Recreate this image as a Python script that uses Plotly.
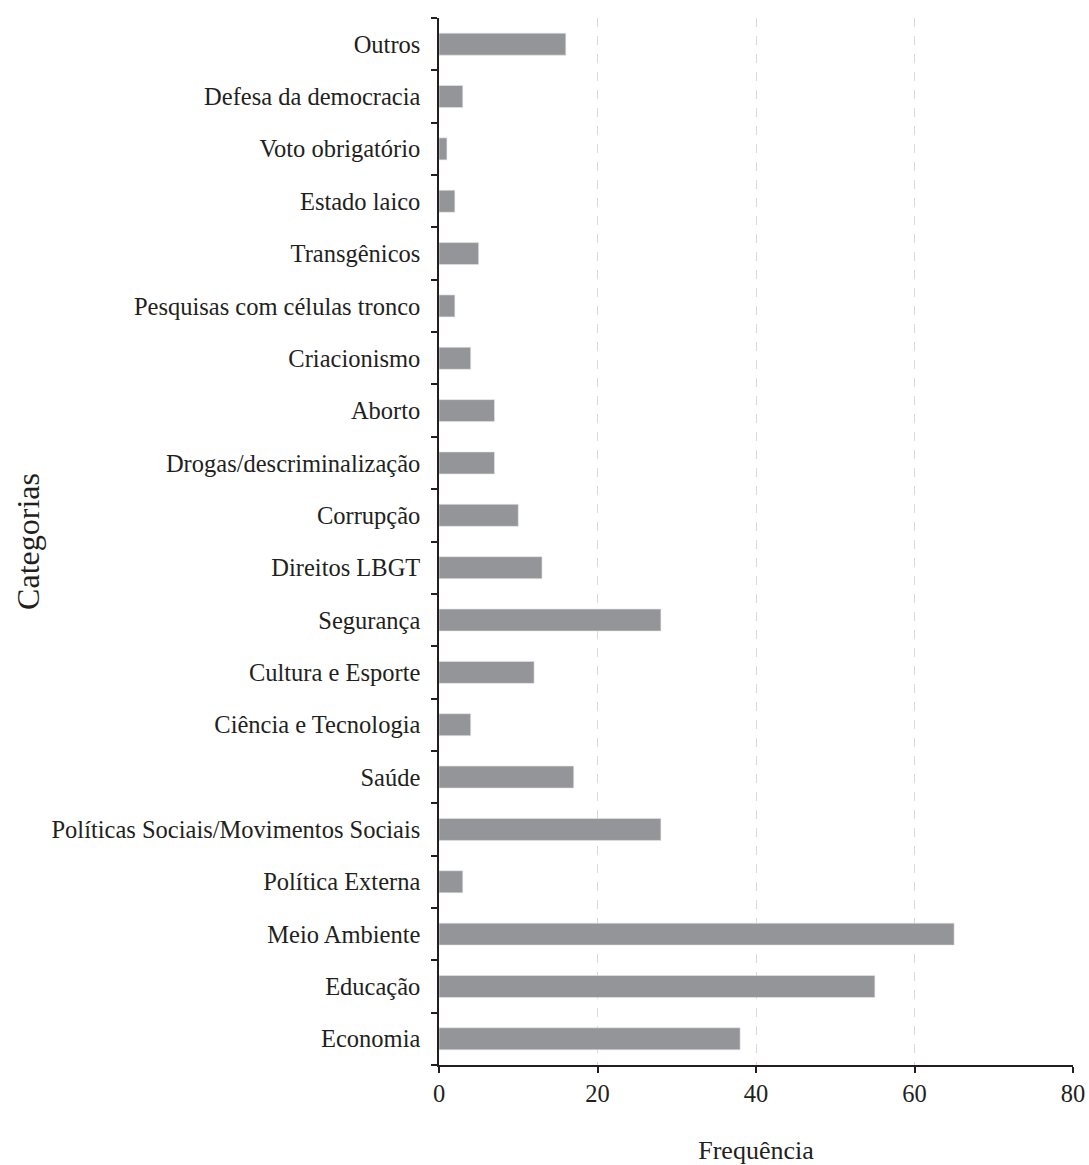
import plotly.graph_objects as go

# Categories listed bottom to top
categorias = [
    "Economia",
    "Educação",
    "Meio Ambiente",
    "Política Externa",
    "Políticas Sociais/Movimentos Sociais",
    "Saúde",
    "Ciência e Tecnologia",
    "Cultura e Esporte",
    "Segurança",
    "Direitos LBGT",
    "Corrupção",
    "Drogas/descriminalização",
    "Aborto",
    "Criacionismo",
    "Pesquisas com células tronco",
    "Transgênicos",
    "Estado laico",
    "Voto obrigatório",
    "Defesa da democracia",
    "Outros",
]
frequencia = [38, 55, 65, 3, 28, 17, 4, 12, 28, 13, 10, 7, 7, 4, 2, 5, 2, 1, 3, 16]
x_ticks = [0, 20, 40, 60, 80]

FONT = "Liberation Serif, Times New Roman, serif"
TEXT = "#231f20"
AXIS = "#231f20"

fig = go.Figure(
    go.Bar(
        x=frequencia,
        y=categorias,
        orientation="h",
        marker=dict(color="#939598", line=dict(color="#e6e6e6", width=0.6)),
        width=0.42,
    )
)

fig.update_layout(
    width=1089,
    height=1165,
    margin=dict(l=439, r=16, t=18, b=100),
    paper_bgcolor="white",
    plot_bgcolor="white",
    font=dict(family=FONT, color=TEXT, size=24.5),
    showlegend=False,
    xaxis=dict(
        range=[0, 80],
        tickvals=x_ticks,
        ticktext=[str(v) for v in x_ticks],
        showgrid=True,
        gridcolor="#d9d9d9",
        griddash="dash",
        gridwidth=1,
        zeroline=False,
        showline=True,
        linecolor=AXIS,
        linewidth=1.5,
        ticks="outside",
        ticklen=6,
        tickcolor=AXIS,
        tickwidth=1.5,
        tickfont=dict(size=24.5),
        ticklabelstandoff=0,
        automargin=False,
        title=dict(text="Frequência", font=dict(size=26), standoff=36),
    ),
    yaxis=dict(
        type="category",
        categoryorder="array",
        categoryarray=categorias,
        range=[-0.5, len(categorias) - 0.5],
        showgrid=False,
        zeroline=False,
        showline=True,
        linecolor=AXIS,
        linewidth=1.5,
        ticks="outside",
        tickson="boundaries",
        ticklen=6,
        tickcolor=AXIS,
        tickwidth=1.5,
        tickfont=dict(size=24.5),
        ticklabelstandoff=12,
        automargin=False,
        title=dict(text="Categorias", font=dict(size=32), standoff=2),
    ),
)

fig.write_html("out.html")
